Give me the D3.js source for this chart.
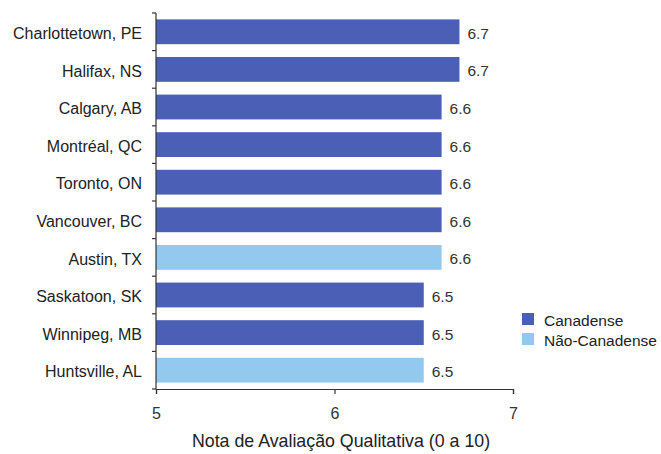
<!DOCTYPE html>
<html>
<head>
<meta charset="utf-8">
<script src="https://cdn.jsdelivr.net/npm/d3@7"></script>
<style>
  html, body { margin: 0; padding: 0; background: #fff; }
  svg { display: block; font-family: "Liberation Sans", Arial, Helvetica, sans-serif; }
</style>
</head>
<body>
<svg id="chart" width="661" height="454"></svg>
<script>
// Cities, their scores and whether they are Canadian
const cities = ["Charlottetown, PE", "Halifax, NS", "Calgary, AB", "Montréal, QC", "Toronto, ON",
                "Vancouver, BC", "Austin, TX", "Saskatoon, SK", "Winnipeg, MB", "Huntsville, AL"];
const scores = [6.7, 6.7, 6.6, 6.6, 6.6, 6.6, 6.6, 6.5, 6.5, 6.5];
const groups = ["Canadense", "Canadense", "Canadense", "Canadense", "Canadense",
                "Canadense", "Não-Canadense", "Canadense", "Canadense", "Não-Canadense"];
const legendLabels = ["Canadense", "Não-Canadense"];
const xTicks = [5, 6, 7];
const axisTitle = "Nota de Avaliação Qualitativa (0 a 10)";

const rows = cities.map((c, i) => ({ city: c, score: scores[i], group: groups[i] }));

const svg = d3.select("#chart");
const plotLeft = 156, plotRight = 513, plotTop = 13, plotBottom = 389;

const x = d3.scaleLinear().domain([5, 7]).range([plotLeft, plotRight]);
const y = d3.scaleBand().domain(cities).range([plotTop, plotBottom]).paddingInner(0.34).paddingOuter(0.17);
const color = d3.scaleOrdinal().domain(legendLabels).range(["#4a5fb5", "#93c9ee"]);

// Bars
svg.append("g").selectAll("rect").data(rows).join("rect")
  .attr("x", x(5))
  .attr("y", d => y(d.city))
  .attr("width", d => x(d.score) - x(5))
  .attr("height", y.bandwidth())
  .attr("fill", d => color(d.group));

// Value labels
svg.append("g").selectAll("text").data(rows).join("text")
  .attr("x", d => x(d.score) + 8)
  .attr("y", d => y(d.city) + y.bandwidth() / 2)
  .attr("dy", "0.45em")
  .attr("font-size", 15.5)
  .attr("fill", "#333")
  .text(d => d.score.toFixed(1));

// Category labels
svg.append("g").selectAll("text").data(rows).join("text")
  .attr("x", 142)
  .attr("y", d => y(d.city) + y.bandwidth() / 2)
  .attr("dy", "0.45em")
  .attr("text-anchor", "end")
  .attr("font-size", 16)
  .attr("fill", "#222")
  .text(d => d.city);

// Y axis line with ticks at the band boundaries
const boundaries = d3.range(cities.length + 1).map(i => plotTop + i * (plotBottom - plotTop) / cities.length);
const yAxis = svg.append("g").attr("stroke", "#333").attr("stroke-width", 1.2);
yAxis.append("line").attr("x1", plotLeft).attr("x2", plotLeft).attr("y1", plotTop).attr("y2", plotBottom);
yAxis.selectAll("line.tick").data(boundaries).join("line").attr("class", "tick")
  .attr("x1", plotLeft - 4).attr("x2", plotLeft).attr("y1", d => d).attr("y2", d => d);

// X axis
const xAxis = svg.append("g").attr("transform", `translate(0,${plotBottom})`)
  .call(d3.axisBottom(x).tickValues(xTicks).tickFormat(d3.format("d")).tickSizeOuter(0).tickSize(5).tickPadding(14));
xAxis.select(".domain").attr("stroke", "#333").attr("stroke-width", 1.2);
xAxis.selectAll(".tick line").attr("stroke", "#333").attr("stroke-width", 1.2);
xAxis.selectAll(".tick text").attr("font-size", 16).attr("fill", "#333")
  .attr("font-family", "'Liberation Sans', Arial, sans-serif");

// Axis title
svg.append("text")
  .attr("x", 341).attr("y", 447)
  .attr("text-anchor", "middle")
  .attr("font-size", 17.8)
  .attr("fill", "#222")
  .text(axisTitle);

// Legend
const legend = svg.append("g").selectAll("g").data(legendLabels).join("g")
  .attr("transform", (d, i) => `translate(522,${313 + i * 20})`);
legend.append("rect").attr("width", 12).attr("height", 12).attr("fill", d => color(d));
legend.append("text").attr("x", 22).attr("y", 12.7)
  .attr("font-size", 15.5).attr("fill", "#222").text(d => d);
</script>
</body>
</html>
